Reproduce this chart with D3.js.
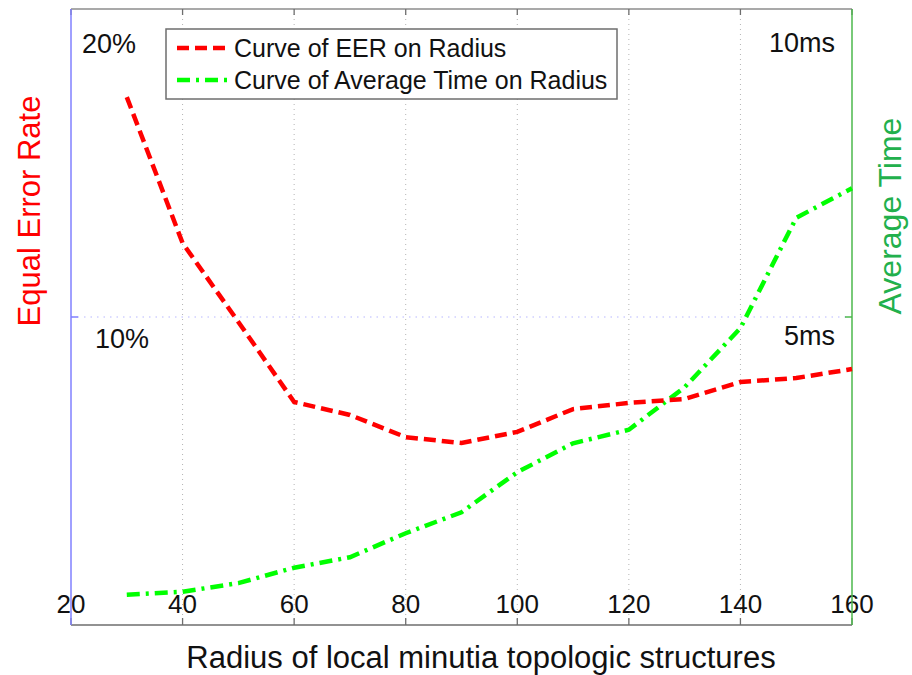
<!DOCTYPE html>
<html>
<head>
<meta charset="utf-8">
<script src="https://cdn.jsdelivr.net/npm/d3@7"></script>
<style>
  body { margin: 0; background: #fff; }
  text { font-family: Arial, "Liberation Sans", sans-serif; }
</style>
</head>
<body>
<div id="graf"></div>
<script>
// dades llegides del gràfic
const radis = [30, 40, 50, 60, 70, 80, 90, 100, 110, 120, 130, 140, 150, 160];
const eer = [17.14, 12.40, 9.84, 7.24, 6.82, 6.10, 5.91, 6.27, 7.01, 7.21, 7.34, 7.89, 8.02, 8.31];
const temps = [0.49, 0.54, 0.68, 0.93, 1.10, 1.49, 1.83, 2.48, 2.95, 3.17, 3.86, 4.82, 6.61, 7.09];
const xTicks = [20, 40, 60, 80, 100, 120, 140, 160];
const eerTicks = [10, 20];
const eerTickLabels = ['10%', '20%'];
const tempsTicks = [5, 10];
const tempsTickLabels = ['5ms', '10ms'];
const llegenda = ['Curve of EER on Radius', 'Curve of Average Time on Radius'];

const Amplada = 912, Alçada = 675;
const vermell = '#ff0000', verd = '#00ff00', verdFosc = '#22b04c';
const ratllat = '12,6', puntRatlla = '13,6,3,6';

const x = d3.scaleLinear().domain([20, 160]).range([71, 852]);
const yE = d3.scaleLinear().domain([0, 20]).range([625, 9]);
const yT = d3.scaleLinear().domain([0, 10]).range([625, 9]);

const svg = d3.select('#graf').append('svg')
	.attr('width', Amplada)
	.attr('height', Alçada);

// graella
svg.append('g').selectAll('line')
	.data(xTicks.slice(1, -1))
	.join('line')
		.attr('x1', d => x(d)).attr('x2', d => x(d))
		.attr('y1', yE(0)).attr('y2', yE(20))
		.attr('stroke', '#b4b4b4').attr('stroke-width', 1)
		.attr('stroke-dasharray', '1,4');
svg.append('line')
	.attr('x1', x(20)).attr('x2', x(160))
	.attr('y1', yE(10)).attr('y2', yE(10))
	.attr('stroke', '#b8b8ff').attr('stroke-width', 1.2)
	.attr('stroke-dasharray', '1.5,5');

// eixos de dalt i de baix
const eixX = svg.append('g');
eixX.append('line')
	.attr('x1', x(20)).attr('x2', x(160)).attr('y1', yE(0)).attr('y2', yE(0))
	.attr('stroke', '#6e6e6e').attr('stroke-width', 1.5);
eixX.append('line')
	.attr('x1', x(20)).attr('x2', x(160)).attr('y1', yE(20)).attr('y2', yE(20))
	.attr('stroke', '#8c8c8c').attr('stroke-width', 1.5);
eixX.selectAll('.tb').data(xTicks).join('line').attr('class', 'tb')
	.attr('x1', d => x(d)).attr('x2', d => x(d))
	.attr('y1', yE(0)).attr('y2', yE(0) - 7)
	.attr('stroke', '#6e6e6e').attr('stroke-width', 1.3);
eixX.selectAll('.td').data(xTicks).join('line').attr('class', 'td')
	.attr('x1', d => x(d)).attr('x2', d => x(d))
	.attr('y1', yE(20)).attr('y2', yE(20) + 6)
	.attr('stroke', '#6e6e6e').attr('stroke-width', 1.3);
eixX.selectAll('text').data(xTicks).join('text')
	.attr('x', d => x(d)).attr('y', 613)
	.attr('text-anchor', 'middle')
	.attr('font-size', 26).attr('fill', '#111')
	.text(d => d);

// eix esquerre (EER)
svg.append('line')
	.attr('x1', x(20)).attr('x2', x(20)).attr('y1', yE(0)).attr('y2', yE(20))
	.attr('stroke', '#8080ff').attr('stroke-width', 1.5);
svg.append('line')
	.attr('x1', x(20)).attr('x2', x(20) + 7).attr('y1', yE(10)).attr('y2', yE(10))
	.attr('stroke', '#8080ff').attr('stroke-width', 1.5);
svg.append('g').selectAll('text').data(eerTicks).join('text')
	.attr('x', (d, i) => i === 0 ? 95 : 82)
	.attr('y', d => Math.max(yE(d) + 31, 53))
	.attr('font-size', 27).attr('fill', '#111')
	.text((d, i) => eerTickLabels[i]);

// eix dret (temps)
svg.append('line')
	.attr('x1', x(160)).attr('x2', x(160)).attr('y1', yT(0)).attr('y2', yT(10))
	.attr('stroke', '#4cb84c').attr('stroke-width', 1.5);
svg.append('line')
	.attr('x1', x(160)).attr('x2', x(160) - 7).attr('y1', yT(5)).attr('y2', yT(5))
	.attr('stroke', '#4cb84c').attr('stroke-width', 1.5);
svg.append('g').selectAll('text').data(tempsTicks).join('text')
	.attr('x', 835)
	.attr('y', d => Math.max(yT(d) + 28, 52))
	.attr('text-anchor', 'end')
	.attr('font-size', 27).attr('fill', '#111')
	.text((d, i) => tempsTickLabels[i]);

// corbes
const líniaE = d3.line().x((d, i) => x(radis[i])).y(d => yE(d));
const líniaT = d3.line().x((d, i) => x(radis[i])).y(d => yT(d));
svg.append('path').datum(temps)
	.attr('d', líniaT)
	.attr('fill', 'none').attr('stroke', verd).attr('stroke-width', 4.5)
	.attr('stroke-dasharray', puntRatlla);
svg.append('path').datum(eer)
	.attr('d', líniaE)
	.attr('fill', 'none').attr('stroke', vermell).attr('stroke-width', 4.5)
	.attr('stroke-dasharray', ratllat);

// títols dels eixos
svg.append('text')
	.attr('x', 481).attr('y', 668)
	.attr('text-anchor', 'middle')
	.attr('font-size', 31).attr('fill', '#111')
	.text('Radius of local minutia topologic structures');
svg.append('text')
	.attr('transform', 'translate(40,211) rotate(-90)')
	.attr('text-anchor', 'middle')
	.attr('font-size', 31).attr('fill', vermell)
	.text('Equal Error Rate');
svg.append('text')
	.attr('transform', 'translate(901,216) rotate(-90)')
	.attr('text-anchor', 'middle')
	.attr('font-size', 32).attr('fill', verdFosc)
	.text('Average Time');

// llegenda
const lleg = svg.append('g');
lleg.append('rect')
	.attr('x', 166).attr('y', 29).attr('width', 451).attr('height', 70)
	.attr('fill', '#fff').attr('stroke', '#6e6e6e').attr('stroke-width', 1.5);
const colors = [vermell, verd];
const patrons = [ratllat, puntRatlla];
llegenda.forEach((t, i) => {
	const yy = 48 + i * 32;
	lleg.append('line')
		.attr('x1', 177).attr('x2', 228).attr('y1', yy).attr('y2', yy)
		.attr('stroke', colors[i]).attr('stroke-width', 4.5)
		.attr('stroke-dasharray', patrons[i]);
	lleg.append('text')
		.attr('x', 234).attr('y', yy + 9)
		.attr('font-size', 25).attr('fill', '#111')
		.text(t);
});
</script>
</body>
</html>
